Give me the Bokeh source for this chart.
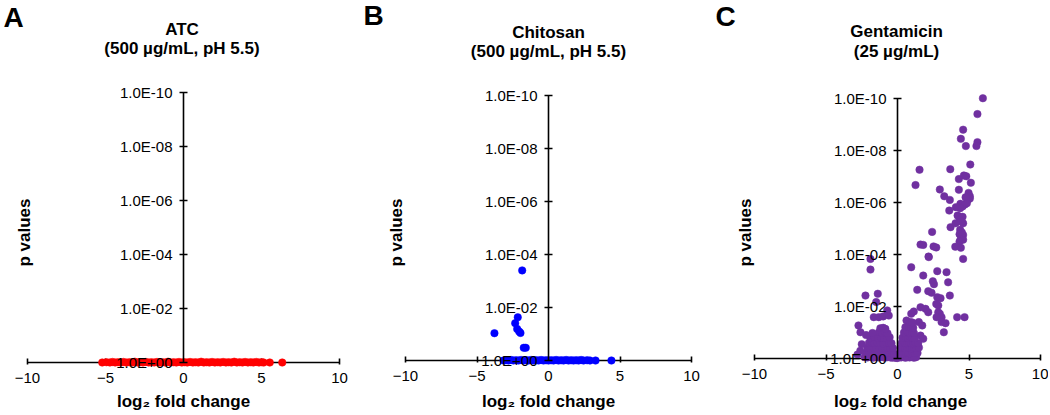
import numpy as np
from bokeh.plotting import figure
from bokeh.models import Range1d, LinearAxis, FixedTicker, Label
from bokeh.layouts import row
from bokeh.embed import file_html
from bokeh.resources import INLINE

# ---------------- data ----------------
x_ticks = [-10, -5, 0, 5, 10]
y_ticks = [0, 2, 4, 6, 8, 10]                     # -log10(p)
y_tick_labels = ["1.0E+00", "1.0E-02", "1.0E-04", "1.0E-06", "1.0E-08", "1.0E-10"]

panel_letters = ["A", "B", "C"]
title_line1 = ["ATC", "Chitosan", "Gentamicin"]
title_line2 = ["(500 µg/mL, pH 5.5)", "(500 µg/mL, pH 5.5)", "(25 µg/mL)"]
colors = ["#FF0000", "#0000FF", "#7030A0"]
x_label = "log₂ fold change"
y_label = "p values"

# (log2 fold change, -log10 p)
atc_points = [
    (-5.21, 0.00), (-4.94, 0.01), (-4.72, 0.00), (-4.55, 0.02), (-4.38, 0.00), (-4.20, 0.01),
    (-4.01, 0.00), (-3.85, 0.02), (-3.66, 0.00), (-3.47, 0.01), (-3.30, 0.00), (-3.12, 0.03),
    (-2.95, 0.00), (-2.77, 0.01), (-2.60, 0.00), (-2.41, 0.02), (-2.23, 0.00), (-2.06, 0.01),
    (-1.88, 0.00), (-1.70, 0.02), (-1.52, 0.00), (-1.35, 0.01), (-1.17, 0.00), (-0.99, 0.03),
    (-0.82, 0.00), (-0.64, 0.01), (-0.46, 0.00), (-0.29, 0.02), (-0.11, 0.00), (0.07, 0.01),
    (0.24, 0.00), (0.42, 0.02), (0.60, 0.00), (0.77, 0.01), (0.95, 0.00), (1.13, 0.03),
    (1.30, 0.00), (1.48, 0.01), (1.66, 0.00), (1.83, 0.02), (2.01, 0.00), (2.19, 0.01),
    (2.36, 0.00), (2.54, 0.02), (2.72, 0.00), (2.89, 0.01), (3.07, 0.00), (3.25, 0.03),
    (3.42, 0.00), (3.60, 0.01), (3.78, 0.00), (3.95, 0.02), (4.13, 0.00), (4.31, 0.01),
    (4.48, 0.00), (4.66, 0.02), (4.84, 0.00), (5.02, 0.01), (5.14, 0.00), (5.53, 0.00),
    (6.33, 0.00),
]

chitosan_points = [
    (-3.15, 0.00), (-2.98, 0.01), (-2.80, 0.00), (-2.62, 0.02), (-2.45, 0.00), (-2.27, 0.01),
    (-2.10, 0.00), (-1.92, 0.02), (-1.75, 0.00), (-1.57, 0.01), (-1.40, 0.00), (-1.22, 0.02),
    (-1.05, 0.00), (-0.87, 0.01), (-0.70, 0.00), (-0.52, 0.02), (-0.35, 0.00), (-0.17, 0.01),
    (0.00, 0.00), (0.18, 0.01), (0.35, 0.00), (0.53, 0.02), (0.70, 0.00), (0.88, 0.01),
    (1.05, 0.00), (1.23, 0.02), (1.40, 0.00), (1.58, 0.01), (1.75, 0.00), (1.93, 0.01),
    (2.10, 0.00), (2.28, 0.02), (2.45, 0.00), (2.70, 0.01), (2.90, 0.00), (3.29, 0.00),
    (4.40, 0.00),
    (-1.84, 3.40), (-2.15, 1.63), (-2.33, 1.41), (-2.19, 1.19), (-2.05, 1.09), (-1.96, 1.04),
    (-3.78, 1.03), (-1.73, 0.48), (-1.59, 0.48),
]

gentamicin_points = [
    # upper, significant genes
    (5.97, 10.01), (5.59, 9.40), (4.59, 8.80), (4.43, 8.45), (4.78, 8.17), (5.59, 8.32),
    (5.52, 8.17), (5.09, 7.46), (1.54, 7.26), (3.69, 7.28), (1.26, 6.67), (4.64, 7.04),
    (4.81, 7.01), (4.29, 6.90), (5.13, 6.76), (2.96, 6.50), (4.29, 6.49), (4.97, 6.37),
    (5.06, 6.24), (4.83, 6.18), (4.95, 6.12), (5.06, 6.15), (3.27, 6.24), (3.66, 6.10),
    (4.76, 6.20), (4.40, 5.95), (4.55, 5.85), (4.71, 5.92), (4.85, 5.97), (4.38, 5.78),
    (3.62, 5.69), (4.08, 5.82), (4.20, 5.50), (4.31, 5.45), (4.55, 5.45), (4.38, 5.32),
    (4.59, 5.20), (4.48, 5.27), (3.71, 5.05), (4.06, 5.20), (4.38, 4.95), (4.50, 4.85),
    (4.34, 4.78), (4.59, 4.75), (4.43, 4.60), (4.59, 4.57), (4.34, 4.50), (2.42, 4.87),
    (1.61, 4.38), (1.80, 4.37), (2.52, 4.31), (2.71, 4.27), (4.04, 4.30), (4.43, 4.26),
    (2.17, 3.92), (4.59, 3.83), (-1.89, 3.83), (-1.89, 3.42), (2.19, 3.90), (0.96, 3.51),
    (2.78, 3.36), (3.43, 3.32), (3.54, 2.93), (1.80, 3.19), (2.47, 2.97), (2.55, 2.86),
    (1.38, 2.64), (2.15, 2.59), (2.38, 2.53), (3.66, 2.42), (2.78, 2.36), (3.01, 2.32),
    (2.71, 2.10), (2.85, 2.04), (1.61, 1.97), (1.96, 1.91), (2.15, 1.78), (2.85, 1.78),
    (2.96, 1.72), (3.08, 1.59), (2.73, 1.59), (4.17, 1.59), (4.69, 1.59), (3.08, 1.40),
    (3.36, 1.36), (0.96, 1.72), (1.14, 1.81), (0.63, 1.46), (1.49, 1.40), (1.73, 1.27),
    (3.24, 1.01), (1.61, 0.88), (1.80, 0.76),
    (-2.24, 2.42), (-1.38, 2.49), (-1.49, 2.17), (-0.72, 1.85), (-1.66, 1.59), (-1.31, 1.59),
    (-1.00, 1.62), (-0.61, 1.65), (-2.73, 1.27), (-2.59, 1.01),
    # left lobe
    (-2.30, 0.05), (-2.10, 0.04), (-1.90, 0.06), (-1.70, 0.03), (-1.50, 0.05), (-1.30, 0.04),
    (-1.10, 0.06), (-0.90, 0.03), (-0.70, 0.05), (-0.50, 0.04), (-0.35, 0.03), (-0.20, 0.05),
    (-0.10, 0.02), (-2.20, 0.22), (-2.00, 0.20), (-1.80, 0.21), (-1.60, 0.19), (-1.40, 0.22),
    (-1.20, 0.20), (-1.00, 0.21), (-0.80, 0.19), (-0.60, 0.22), (-0.40, 0.20), (-0.25, 0.18),
    (-2.10, 0.41), (-1.90, 0.39), (-1.70, 0.42), (-1.50, 0.40), (-1.30, 0.38), (-1.10, 0.41),
    (-0.90, 0.40), (-0.70, 0.42), (-0.50, 0.39), (-0.32, 0.40), (-2.00, 0.60), (-1.80, 0.62),
    (-1.60, 0.59), (-1.40, 0.61), (-1.20, 0.60), (-1.00, 0.58), (-0.80, 0.62), (-0.60, 0.60),
    (-0.42, 0.59), (-1.90, 0.80), (-1.60, 0.82), (-1.35, 0.79), (-1.15, 0.81), (-0.95, 0.80),
    (-0.75, 0.78), (-0.55, 0.82), (-1.75, 0.98), (-1.30, 1.01), (-1.10, 0.99), (-0.90, 1.02),
    (-0.70, 0.97), (-1.20, 1.16), (-1.00, 1.18), (-0.85, 1.14), (-2.60, 0.30), (-2.50, 0.55),
    (-2.20, 0.90), (-2.80, 0.15),
    # right lobe
    (0.10, 0.05), (0.25, 0.04), (0.40, 0.06), (0.55, 0.03), (0.70, 0.05), (0.85, 0.04),
    (1.00, 0.06), (1.15, 0.03), (1.30, 0.05), (0.15, 0.21), (0.30, 0.19), (0.45, 0.22),
    (0.60, 0.20), (0.75, 0.21), (0.90, 0.19), (1.05, 0.22), (1.20, 0.20), (1.40, 0.21),
    (0.22, 0.40), (0.40, 0.41), (0.55, 0.39), (0.70, 0.42), (0.85, 0.40), (1.00, 0.38),
    (1.15, 0.41), (1.30, 0.40), (1.50, 0.42), (0.30, 0.60), (0.50, 0.61), (0.65, 0.59),
    (0.80, 0.62), (0.95, 0.60), (1.10, 0.58), (1.25, 0.61), (1.45, 0.60), (0.35, 0.80),
    (0.60, 0.81), (0.75, 0.79), (0.90, 0.82), (1.05, 0.80), (1.20, 0.78), (0.45, 1.00),
    (0.70, 1.02), (0.85, 0.99), (1.00, 1.01), (1.15, 0.98), (0.55, 1.20), (0.80, 1.21),
    (0.95, 1.19), (1.10, 1.18), (0.90, 1.40), (1.05, 1.38), (0.00, 0.02), (-0.05, 0.10),
    (0.05, 0.15),
]

panel_points = [atc_points, chitosan_points, gentamicin_points]

# ---------------- layout (page pixels) ----------------
FONT = "Liberation Sans"
H = 414
TOP = 0
geom = [
    dict(left=0,   w=350, x0=183, ppx=15.6, y0=362, ppy=27.0,
         letter=(3, 17), t1=(181.5, 29), t2=(181.5, 48), ylab=(24, 232), xlab=(183, 401)),
    dict(left=350, w=350, x0=548, ppx=14.3, y0=360, ppy=26.5,
         letter=(363, 15), t1=(548, 31.5), t2=(548, 51), ylab=(396, 232), xlab=(548, 401)),
    dict(left=700, w=348, x0=897, ppx=14.3, y0=358, ppy=26.0,
         letter=(715, 16), t1=(896, 31), t2=(896, 51), ylab=(745, 232), xlab=(900, 401)),
]


def make_panel(i):
    g = geom[i]
    def dx(px):
        return (px - g["x0"]) / g["ppx"]
    def dy(py):
        return (g["y0"] - py) / g["ppy"]

    p = figure(width=g["w"], height=H,
               x_range=Range1d(dx(g["left"]), dx(g["left"] + g["w"])),
               y_range=Range1d(dy(TOP + H), dy(TOP)),
               x_axis_type=None, y_axis_type=None,
               output_backend="svg", toolbar_location=None, min_border=0)
    p.outline_line_color = None
    p.background_fill_color = "white"
    p.border_fill_color = "white"

    xa = LinearAxis(fixed_location=0, ticker=FixedTicker(ticks=x_ticks), bounds=(-10, 10),
                    axis_line_width=1.6, axis_line_color="black",
                    major_tick_line_width=1.6, major_tick_in=4, major_tick_out=2,
                    minor_tick_line_color=None,
                    major_label_text_font=FONT, major_label_text_font_size="15px",
                    major_label_text_color="black", major_label_standoff=8, level="underlay")
    p.add_layout(xa, "below")

    ya = LinearAxis(fixed_location=0, ticker=FixedTicker(ticks=y_ticks), bounds=(0, 10),
                    major_label_overrides={t: l for t, l in zip(y_ticks, y_tick_labels)},
                    axis_line_width=1.6, axis_line_color="black",
                    major_tick_line_width=1.6, major_tick_in=4, major_tick_out=4,
                    minor_tick_line_color=None,
                    major_label_text_font=FONT, major_label_text_font_size="15px",
                    major_label_text_color="black", major_label_standoff=7)
    p.add_layout(ya, "left")

    pts = panel_points[i]
    xs = [a for a, b in pts]
    ys = [b for a, b in pts]
    p.scatter(xs, ys, size=7.5, fill_color=colors[i], line_color=colors[i], line_width=0.5)

    def lab(text, pos, size, align="center", angle=0.0, style="bold"):
        p.add_layout(Label(x=dx(pos[0]), y=dy(pos[1]), text=text, text_font=FONT,
                           text_font_size=size, text_font_style=style, text_color="black",
                           text_align=align, text_baseline="middle", angle=angle))

    lab(panel_letters[i], g["letter"], "28px", align="left")
    lab(title_line1[i], g["t1"], "17px")
    lab(title_line2[i], g["t2"], "17px")
    lab(y_label, g["ylab"], "17px", angle=np.pi / 2)
    lab(x_label, g["xlab"], "17px")
    return p


panels = [make_panel(i) for i in range(3)]
layout = row(*panels, spacing=0)
open("out.html", "w").write(file_html(layout, INLINE))
